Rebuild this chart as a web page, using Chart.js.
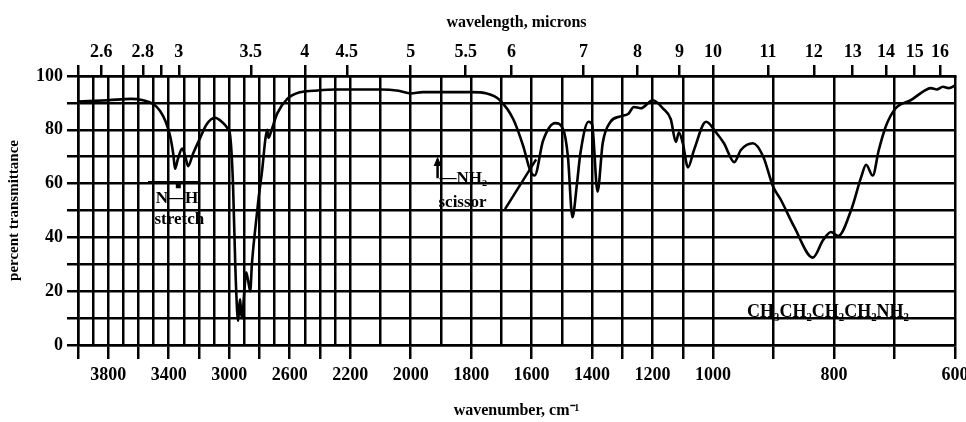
<!DOCTYPE html>
<html>
<head>
<meta charset="utf-8">
<script src="https://cdn.jsdelivr.net/npm/chart.js@4.4.1/dist/chart.umd.min.js"></script>
<style>
  html, body { margin: 0; padding: 0; background: #fff; }
</style>
</head>
<body>
<canvas id="irChart" width="966" height="422"></canvas>
<script>
// IR spectrum of n-butylamine
const wavenumbers = [
  4000, 3800, 3650, 3570, 3500, 3457, 3420, 3390, 3370, 3358,
  3340, 3311, 3290, 3272, 3240, 3192, 3150, 3093, 3050, 3010,
  2994, 2975, 2960, 2947, 2941, 2934, 2928, 2921, 2915, 2900,
  2888, 2875, 2861, 2850, 2830, 2805, 2782, 2762, 2749, 2740,
  2725, 2683, 2616, 2530, 2444, 2300, 2200, 2100, 2040, 2000,
  1960, 1900, 1800, 1748, 1705, 1661, 1628, 1605, 1590, 1562,
  1522, 1495, 1480, 1465, 1450, 1439, 1412, 1400, 1382, 1365,
  1339, 1306, 1280, 1262, 1239, 1199, 1166, 1140, 1123, 1113,
  1100, 1083, 1063, 1023, 995, 982, 965, 954, 934, 917,
  901, 888, 866, 835, 818, 805, 793, 772, 755, 747,
  736, 726, 714, 698, 673, 651, 640, 630, 620, 610,
  600
];
const transmittance = [
  90.5, 91, 91.5, 91, 89.5, 87, 83, 77.5, 71, 65.5,
  69, 73, 70, 66.5, 71, 77, 82, 84.5, 83, 80.5,
  78, 60, 30, 12, 9, 14, 17, 12, 10, 20,
  27, 24, 20, 30, 42, 55, 65, 76, 80, 77,
  79, 86, 91.5, 94, 94.5, 95, 95, 95, 94.5, 93.5,
  94, 94, 94, 93.5, 91, 84, 74, 65, 63, 76,
  82.5, 80, 70, 47.5, 60, 71, 83, 82, 57, 75,
  83, 85, 86, 88.5, 88, 91, 88, 84, 75.5, 79,
  75, 66, 72.5, 83, 79, 75, 68, 72.5, 75, 70,
  59, 54, 44, 32.5, 39, 42, 40.5, 50, 62.5, 67,
  63, 72.5, 81.5, 88, 91, 94.5, 95.5, 95, 96, 95.5,
  96.5
];

const bottomLabels = [3800, 3400, 3000, 2600, 2200, 2000, 1800, 1600, 1400, 1200, 1000, 800, 600];
const bottomMarks = [4000, 3800, 3600, 3400, 3200, 3000, 2800, 2600, 2400, 2200, 2000, 1800, 1600,
  1400, 1300, 1200, 1100, 1000, 900, 800, 700, 600];
const micronTicks = [2.5, 2.6, 2.7, 2.8, 2.9, 3, 3.5, 4, 4.5, 5, 5.5, 6, 7, 8, 9, 10, 11, 12, 13, 14, 15, 16];
const micronLabels = ['', '2.6', '', '2.8', '', '3', '3.5', '4', '4.5', '5', '5.5', '6', '7', '8', '9',
  '10', '11', '12', '13', '14', '15', '16'];
const yLabels = [0, 20, 40, 60, 80, 100];

const notes = [
  { text: 'N\u2014H', wave: 3345, t: 54.5, align: 'center', size: 17 },
  { text: 'stretch', wave: 3330, t: 46.5, align: 'center', size: 17 },
  { text: '\u2014NH\u2082', wave: 1905, t: 62, align: 'left', size: 17 },
  { text: 'scissor', wave: 1908, t: 53, align: 'left', size: 17 },
  { text: 'CH\u2083CH\u2082CH\u2082CH\u2082NH\u2082', wave: 810, t: 12.3, align: 'center', size: 18 }
];

// the chart paper changes scale at 2200 and at 1000 cm-1
function toUnit(v) {
  if (v >= 2200) return (4000 - v) / 100;
  if (v >= 1000) return 18 + (2200 - v) / 50;
  return 42 + (1000 - v) / 25;
}
function fromUnit(u) {
  if (u <= 18) return 4000 - u * 100;
  if (u <= 42) return 2200 - (u - 18) * 50;
  return 1000 - (u - 42) * 25;
}

class WaveScale extends Chart.LinearScale {
  static id = 'wave';
  getPixelForValue(v) {
    return this.getPixelForDecimal(toUnit(v) / 58);
  }
  getValueForPixel(p) {
    return fromUnit(this.getDecimalForPixel(p) * 58);
  }
}
Chart.register(WaveScale);

const gridWaves = [];
for (let w = 4000; w >= 600; w -= 100) gridWaves.push(w);

const serif = 'Liberation Serif';

const notesPlugin = {
  id: 'notes',
  afterDatasetsDraw(chart) {
    const { ctx } = chart;
    const x = chart.scales.x, y = chart.scales.y;
    ctx.save();
    ctx.strokeStyle = '#000';
    ctx.fillStyle = '#000';
    ctx.lineWidth = 2.5;

    // N-H bracket
    ctx.beginPath();
    ctx.moveTo(x.getPixelForValue(3537), y.getPixelForValue(60.5));
    ctx.lineTo(x.getPixelForValue(3192), y.getPixelForValue(60.5));
    ctx.stroke();
    ctx.fillRect(x.getPixelForValue(3340) - 2, y.getPixelForValue(60.5), 5, 6);

    // NH2 scissor arrow and leader
    const ax = x.getPixelForValue(1911);
    ctx.beginPath();
    ctx.moveTo(ax, y.getPixelForValue(62));
    ctx.lineTo(ax, y.getPixelForValue(69));
    ctx.stroke();
    ctx.beginPath();
    ctx.moveTo(ax, y.getPixelForValue(70));
    ctx.lineTo(ax - 4, y.getPixelForValue(66.5));
    ctx.lineTo(ax + 4, y.getPixelForValue(66.5));
    ctx.closePath();
    ctx.fill();
    ctx.beginPath();
    ctx.moveTo(x.getPixelForValue(1688), y.getPixelForValue(50.5));
    ctx.lineTo(x.getPixelForValue(1585), y.getPixelForValue(69));
    ctx.stroke();

    ctx.textBaseline = 'middle';
    notes.forEach(n => {
      ctx.font = 'bold ' + n.size + 'px "' + serif + '"';
      ctx.textAlign = n.align;
      ctx.fillText(n.text, x.getPixelForValue(n.wave), y.getPixelForValue(n.t));
    });
    ctx.restore();
  }
};

const tickFont = { family: serif, size: 18, weight: 'bold' };
const titleFont = { family: serif, size: 16, weight: 'bold' };

new Chart(document.getElementById('irChart').getContext('2d'), {
  type: 'line',
  data: {
    datasets: [{
      data: wavenumbers.map((w, i) => ({ x: w, y: transmittance[i] })),
      borderColor: '#000',
      borderWidth: 2.6,
      pointRadius: 0,
      cubicInterpolationMode: 'monotone',
      fill: false
    }]
  },
  options: {
    responsive: false,
    animation: false,
    layout: { padding: { left: 0, right: 11, top: 0, bottom: 0 } },
    plugins: { legend: { display: false }, tooltip: { enabled: false } },
    scales: {
      x: {
        type: 'wave',
        position: 'bottom',
        min: 600,
        max: 4000,
        afterBuildTicks: s => { s.ticks = gridWaves.map(v => ({ value: v })); },
        afterFit: s => { s.height = 77; s.paddingLeft = 0; s.paddingRight = 0; },
        border: { color: '#000', width: 2.5 },
        grid: {
          color: '#000',
          lineWidth: 2.5,
          tickLength: 14,
          tickColor: c => bottomMarks.includes(c.tick.value) ? '#000' : 'rgba(0,0,0,0)'
        },
        ticks: {
          autoSkip: false,
          maxRotation: 0,
          minRotation: 0,
          padding: 6,
          color: '#000',
          font: tickFont,
          callback: v => bottomLabels.includes(v) ? String(v) : ''
        },
        title: {
          display: true,
          text: 'wavenumber, cm\u207B\u00B9',
          color: '#000',
          font: titleFont,
          padding: { top: 0, bottom: 2 }
        }
      },
      x2: {
        type: 'wave',
        position: 'top',
        min: 600,
        max: 4000,
        afterBuildTicks: s => { s.ticks = micronTicks.map(m => ({ value: 10000 / m })); },
        afterFit: s => { s.height = 76; s.paddingLeft = 0; s.paddingRight = 0; },
        border: { color: '#000', width: 2.5 },
        grid: { drawOnChartArea: false, color: '#000', lineWidth: 2.5, tickLength: 11 },
        ticks: {
          autoSkip: false,
          maxRotation: 0,
          minRotation: 0,
          padding: 2,
          color: '#000',
          font: tickFont,
          callback: (v, i) => micronLabels[i]
        },
        title: {
          display: true,
          text: 'wavelength, microns',
          color: '#000',
          font: titleFont,
          padding: { top: 13, bottom: 0 }
        }
      },
      y: {
        min: 0,
        max: 100,
        afterFit: s => { s.width = 78; s.paddingTop = 0; s.paddingBottom = 0; },
        border: { color: '#000', width: 2.5 },
        grid: { color: '#000', lineWidth: 2.5, tickLength: 11 },
        ticks: {
          stepSize: 10,
          padding: 4,
          color: '#000',
          font: tickFont,
          callback: v => yLabels.includes(v) ? String(v) : ''
        },
        title: {
          display: true,
          text: 'percent transmittance',
          color: '#000',
          font: { family: serif, size: 15, weight: 'bold' },
          padding: { top: 5, bottom: 0 }
        }
      }
    }
  },
  plugins: [notesPlugin]
});
</script>
</body>
</html>
